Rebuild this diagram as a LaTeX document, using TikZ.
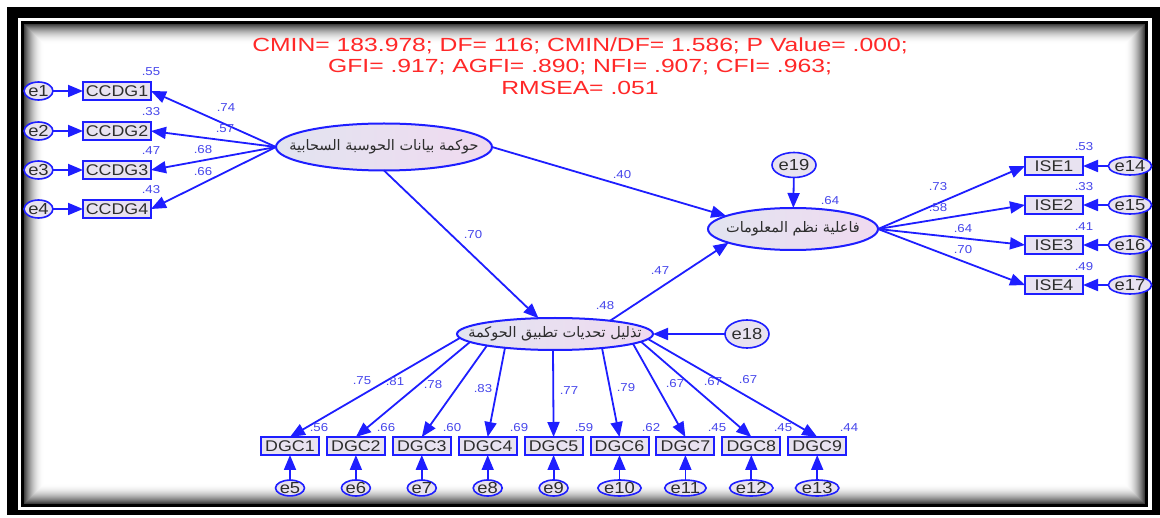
\documentclass[tikz,border=0pt]{standalone}
\usepackage{fontspec}
\setmainfont{Liberation Sans}
\newfontfamily\ttlfont[FakeStretch=1.3]{Liberation Sans}
\newfontfamily\boxfont[FakeStretch=1.15]{Liberation Sans}
\newfontfamily\arabicfont[Script=Arabic]{DejaVu Sans}
\TeXXeTstate=1
\usetikzlibrary{shapes.geometric,arrows.meta,calc}
\definecolor{amosblue}{RGB}{30,30,255}
\definecolor{lblblue}{RGB}{70,70,235}
\definecolor{boxfill}{RGB}{232,226,240}
\definecolor{elleft}{RGB}{226,228,240}
\definecolor{elright}{RGB}{240,218,240}
\definecolor{ttlred}{RGB}{255,40,40}
\definecolor{txtgray}{RGB}{45,45,45}
\newcommand{\artext}[1]{\makebox[0pt]{\beginR #1\endR}}
\tikzset{
  obs/.style={draw=amosblue, line width=2pt, fill=boxfill, inner sep=0pt, outer sep=0pt,
    minimum height=18, text=txtgray, font=\boxfont\fontsize{15.5}{16}\selectfont},
  lat/.style={ellipse, draw=amosblue, line width=2pt, left color=elleft, right color=elright,
    inner sep=0pt, outer sep=0pt, text=txtgray, font=\arabicfont\fontsize{14.5}{15}\selectfont},
  err/.style={ellipse, draw=amosblue, line width=1.6pt, fill=boxfill, inner sep=0pt, outer sep=0pt,
    text=txtgray, font=\boxfont\fontsize{16}{16}\selectfont},
  conn/.style={draw=amosblue, line width=1.8pt, -{Triangle[length=15pt,width=12pt]}},
  lbl/.style={text=lblblue, inner sep=0pt, font=\boxfont\fontsize{11.5}{12}\selectfont}
}
\begin{document}
\begin{tikzpicture}[x=1pt,y=-1pt]
\useasboundingbox (0,0) rectangle (1160,518);
% frame
\fill[black] (7,7) rectangle (1160,515);
\fill[white] (18,18) rectangle (1152,510);
\fill[black] (21,21) rectangle (1148,507);
\foreach \i in {0,...,20}{
  \pgfmathsetmacro{\p}{75*(1-\i/20)^2}
  \fill[black!\p!white] (24+\i,24+\i) rectangle (1145-\i,504-\i);
}
% title
\node[text=ttlred, align=center, font=\ttlfont\fontsize{19}{21.5}\selectfont] (title) at (580,66)
  {CMIN= 183.978; DF= 116; CMIN/DF= 1.586; P Value= .000;\\GFI= .917; AGFI= .890; NFI= .907; CFI= .963;\\RMSEA= .051};
% latent
\node[lat, minimum width=216, minimum height=47] (L1) at (384,147) {\artext{حوكمة بيانات الحوسبة السحابية}};
\node[lat, minimum width=170, minimum height=42] (L2) at (793,229) {\artext{فاعلية نظم المعلومات}};
\node[lat, minimum width=196, minimum height=32] (L3) at (555,334) {\artext{تذليل تحديات تطبيق الحوكمة}};
\node[err, minimum width=44, minimum height=25] (e19) at (794,165) {e19};
\node[err, minimum width=44, minimum height=28] (e18) at (747,334) {e18};
% left indicators
\foreach \k/\y in {1/91,2/131,3/170,4/209}{
  \node[obs, minimum width=68] (C\k) at (117,\y) {CCDG\k};
  \node[err, minimum width=23, minimum height=18] (e\k) at (38.5,\y) {e\k};
  \draw[conn] (e\k) -- (C\k);
  \draw[conn] (L1.west) -- (C\k.east);
}
% right indicators
\foreach \k/\y/\e in {1/166/14,2/205/15,3/245/16,4/285/17}{
  \node[obs, minimum width=58] (I\k) at (1054,\y) {ISE\k};
  \node[err, minimum width=26, minimum height=18] (e\e) at (1130,\y) {e\e};
  \draw[conn] (e\e) -- (I\k);
  \draw[conn] (L2.east) -- (I\k.west);
}
% bottom indicators
\foreach \k/\dx/\dy in {1/-95/3.9,2/-85/8,3/-68/11.5,4/-50/13.8,5/-2/16,6/47/14,7/78/9.7,8/86/7.7,9/93/5}{
  \pgfmathsetmacro{\xx}{290+65.9*(\k-1)}
  \pgfmathtruncatemacro{\ee}{\k+4}
  \node[obs, minimum width=58] (D\k) at (\xx,446) {DGC\k};
  \node[err, minimum width=22, minimum height=15] (e\ee) at (\xx,488) {e\ee};
  \draw[conn] (e\ee) -- (D\k);
  \coordinate (s\k) at ($(L3.center)+(\dx,\dy)$);
  \draw[conn] (s\k) -- (D\k.north);
}
% structural paths
\draw[conn] (L1.east) -- (L2.169);
\draw[conn] (L1.south) -- (L3);
\coordinate (s10) at ($(L3.center)+(55,-13.2)$);
\draw[conn] (s10) -- (L2.192);
\draw[conn] (e19) -- (L2);
\draw[conn] (e18) -- (L3);
% labels
\foreach \t/\x/\y [count=\n] in {.55/151/72,.33/151/112,.47/151/151,.43/151/190,
  .74/226/108,.57/225/129,.68/203/150,.66/203/172,
  .70/473/235,.40/622/175,.47/660/271,.64/830/201,.48/605/306,
  .73/938/187,.58/938/208,.64/963/229,.70/963/250,
  .53/1084/147,.33/1084/187,.41/1084/227,.49/1084/267,
  .75/362/381,.81/395/382,.78/433/385,.83/483/389,.77/569/391,.79/626/388,.67/675/384,.67/713/382,.67/748/380,
  .56/319/428,.66/386/428,.60/452/428,.69/519/428,.59/584/428,.62/651/428,.45/717/428,.45/783/428,.44/849/428}{
  \node[lbl] (lab\n) at (\x,\y) {\t};
}
\end{tikzpicture}
\end{document}
